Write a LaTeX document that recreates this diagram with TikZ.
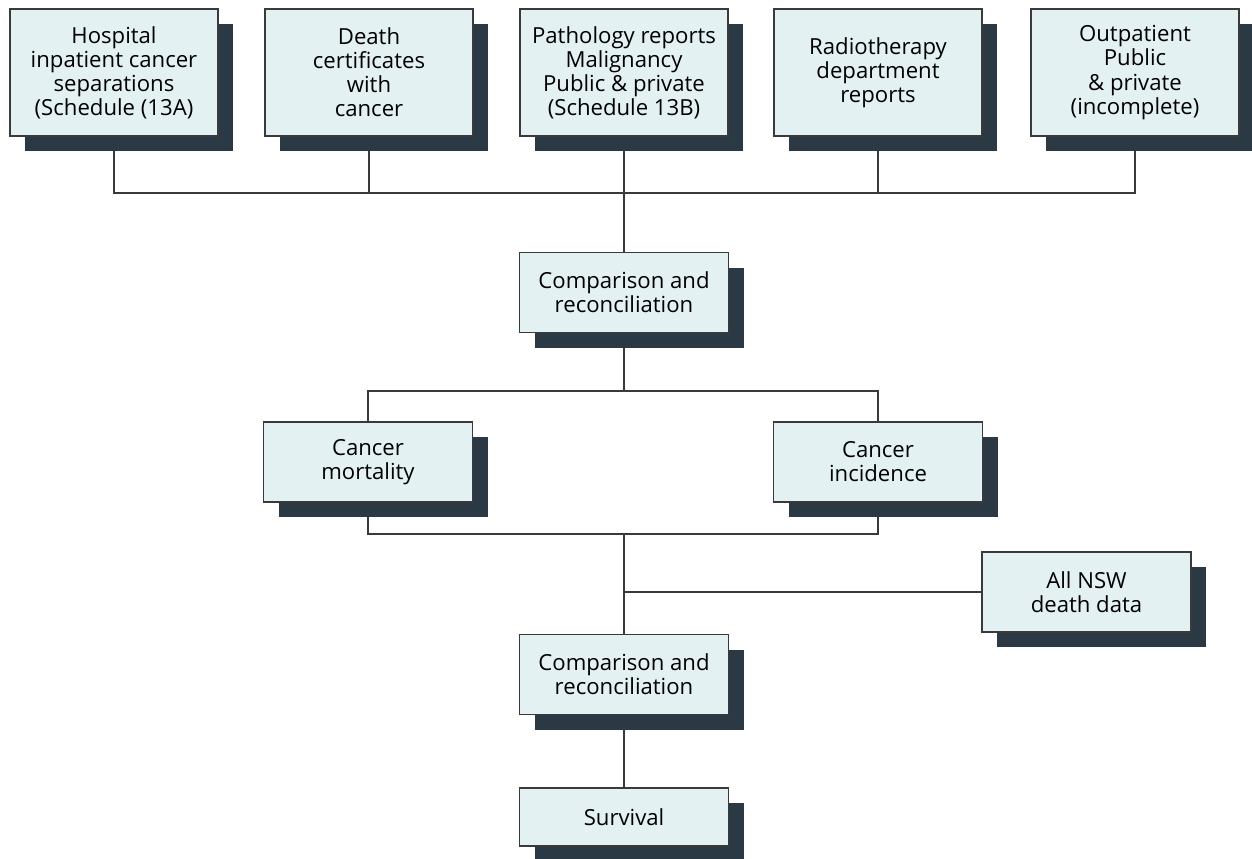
\documentclass[tikz,border=0pt]{standalone}
\usepackage{fontspec}
\setmainfont{Open Sans}
\usepackage{tikz}
\usetikzlibrary{shadows,backgrounds}

\definecolor{boxfill}{HTML}{E4F1F3}
\definecolor{boxshadow}{HTML}{2A3944}
\definecolor{linec}{HTML}{3A3A3A}

\tikzset{
    srcbox/.style={draw=linec, line width=0.6pt, fill=boxfill,
        minimum width=4.16cm, minimum height=2.54cm, align=center,
        inner sep=0pt, font=\fontsize{12.6}{13.7}\selectfont,
        drop shadow={shadow xshift=0.3cm, shadow yshift=-0.3cm,
            fill=boxshadow, opacity=1}},
    stepbox/.style={srcbox, minimum width=4.18cm, minimum height=1.6cm},
    link/.style={draw=linec, line width=0.8pt}
}

\begin{document}
\begin{tikzpicture}

            \useasboundingbox (0,0) rectangle (25.04,-17.16);

            % sources
            \node[srcbox] (hosp) at (2.28,-1.45) {Hospital\\inpatient cancer\\separations\\(Schedule (13A)};
            \node[srcbox] (death) at (7.38,-1.45) {Death\\certificates\\with\\cancer};
            \node[srcbox] (patho) at (12.48,-1.45) {Pathology reports\\Malignancy\\Public \& private\\(Schedule 13B)};
            \node[srcbox] (radio) at (17.56,-1.45) {Radiotherapy\\department\\reports};
            \node[srcbox] (outp) at (22.7,-1.45) {Outpatient\\Public\\\& private\\(incomplete)};

            \node[stepbox] (compA) at (12.48,-5.85) {Comparison and\\reconciliation};

            \node[stepbox] (mort) at (7.36,-9.24) {Cancer\\mortality};
            \node[stepbox] (incid) at (17.56,-9.24) {Cancer\\incidence};

            \node[stepbox] (nsw) at (21.73,-11.84) {All NSW\\death data};

            \node[stepbox] (compB) at (12.48,-13.49) {Comparison and\\reconciliation};
            \node[stepbox, minimum height=1.16cm] (surv) at (12.48,-16.34) {Survival};

            \coordinate (busA) at (12.48,-3.86);
            \coordinate (busB) at (12.48,-7.82);
            \coordinate (busC) at (12.48,-10.68);
            \coordinate (busD) at (12.48,-11.84);

            \begin{scope}[on background layer]
                \draw[link] (hosp.south) |- (busA) -| (outp.south);
                \draw[link] (death.south) -- (death.south |- busA);
                \draw[link] (patho.south) -- (compA.north);
                \draw[link] (radio.south) -- (radio.south |- busA);

                \draw[link] (compA.south) -- (busB);
                \draw[link] (mort.north) |- (busB) -| (incid.north);

                \draw[link] (mort.south) |- (busC) -| (incid.south);
                \draw[link] (busC) -- (compB.north);
                \draw[link] (busD) -- (nsw.west);

                \draw[link] (compB.south) -- (surv.north);
            \end{scope}

            \end{tikzpicture}
\end{document}
